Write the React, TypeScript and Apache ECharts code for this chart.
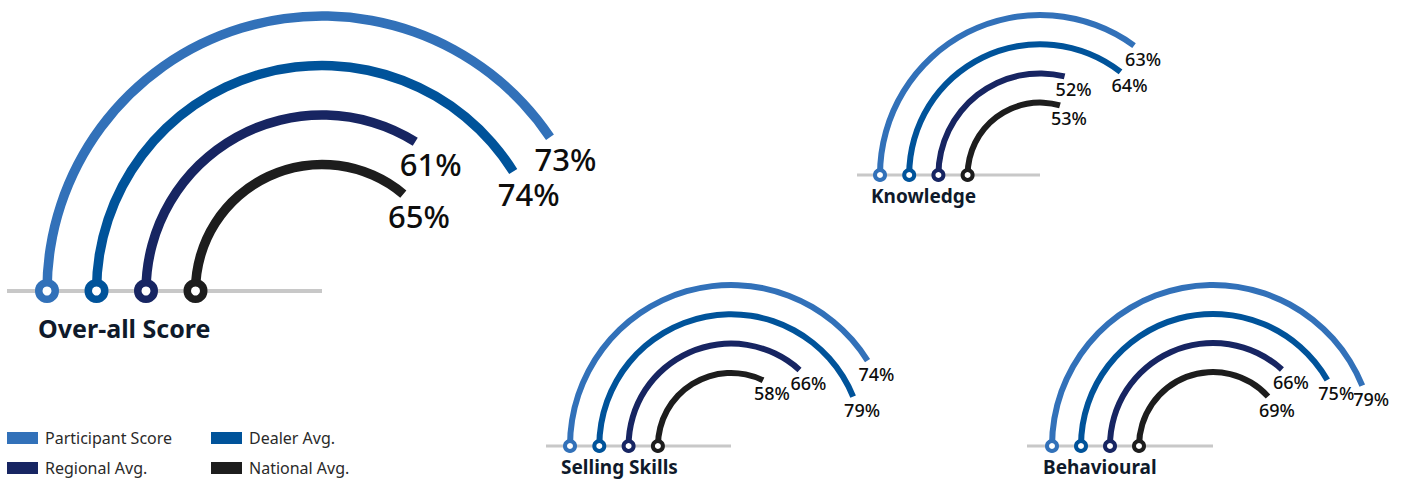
import React, { useEffect, useRef } from 'react';
import * as echarts from 'echarts';

// ---- data ----
const categories = ['Participant Score', 'Dealer Avg.', 'Regional Avg.', 'National Avg.'];
const groupTitles = ['Over-all Score', 'Knowledge', 'Selling Skills', 'Behavioural'];
const overallScores = [73, 74, 61, 65];
const knowledgeScores = [63, 64, 52, 53];
const sellingScores = [74, 79, 66, 58];
const behaviouralScores = [79, 75, 66, 69];
const groupScores = [overallScores, knowledgeScores, sellingScores, behaviouralScores];
const legendColumnA = ['Participant Score', 'Regional Avg.'];
const legendColumnB = ['Dealer Avg.', 'National Avg.'];

// ---- styles / layout ----
const colors = ['#3271b9', '#00539a', '#172562', '#1d1d1d'];
const ANGLE_MAX = 180; // 100% spans 200 degrees
const FONT = '"Noto Sans", "DejaVu Sans", sans-serif';

const layouts = [
  { cx: 322, cy: 291, r: 275, step: 49.5, lw: 9.5, sym: 16.5, bw: 7.5, label: 31, title: 25, base: 4, ext: 40 },
  { cx: 1040, cy: 175, r: 160, step: 29.2, lw: 6, sym: 10, bw: 4, label: 18, title: 19, base: 3, ext: 23 },
  { cx: 731, cy: 446, r: 161, step: 29.3, lw: 6, sym: 10, bw: 4, label: 18, title: 19, base: 3, ext: 24 },
  { cx: 1213, cy: 446, r: 161, step: 29, lw: 6, sym: 10, bw: 4, label: 18, title: 19, base: 3, ext: 25 },
];

export default function App() {
  const ref = useRef<HTMLDivElement>(null);
  useEffect(() => {
    if (!ref.current) return;
    const chart = echarts.init(ref.current, undefined, { renderer: 'svg' });
    const radiusCats = [...categories].reverse();

    const polar: any[] = [];
    const angleAxis: any[] = [];
    const radiusAxis: any[] = [];
    const series: any[] = [];
    const graphic: any[] = [];

    layouts.forEach((L, g) => {
      const scores = groupScores[g];
      const rInner = L.r - L.step * 3;
      polar.push({ center: [L.cx, L.cy], radius: [rInner - L.step / 2, L.r + L.step / 2] });
      angleAxis.push({
        polarIndex: g, type: 'value', min: 0, max: ANGLE_MAX, startAngle: 180, clockwise: true,
        show: false, splitLine: { show: false }, axisLine: { show: false }, axisTick: { show: false }, axisLabel: { show: false },
      });
      radiusAxis.push({
        polarIndex: g, type: 'category', data: radiusCats,
        show: false, splitLine: { show: false }, axisLine: { show: false }, axisTick: { show: false }, axisLabel: { show: false },
      });
      categories.forEach((c, i) => {
        series.push({
          type: 'bar', name: c, coordinateSystem: 'polar', polarIndex: g,
          data: radiusCats.map((rc) => (rc === c ? scores[i] : '-')),
          barWidth: L.lw, barGap: '-100%', itemStyle: { color: colors[i], opacity: 1 }, silent: true, z: 2,
        });
      });
      series.push({
        type: 'scatter', name: 'markers' + g, coordinateSystem: 'polar', polarIndex: g,
        symbol: 'circle', symbolSize: L.sym, silent: true, z: 4,
        itemStyle: { color: '#ffffff', borderWidth: L.bw, opacity: 1 },
        data: categories.map((c, i) => ({
          value: [radiusCats.indexOf(c), 0],
          itemStyle: { borderColor: colors[i], color: '#ffffff', borderWidth: L.bw, opacity: 1 },
        })),
      });
      series.push({
        type: 'scatter', name: 'labels' + g, coordinateSystem: 'polar', polarIndex: g,
        symbol: 'circle', symbolSize: 1, silent: true, z: 5,
        itemStyle: { color: '#ffffff', opacity: 0 },
        label: {
          show: true, position: 'inside', align: 'left', verticalAlign: 'middle',
          offset: [-0.056 * L.r, 0.081 * L.r], opacity: 1,
          formatter: (p: any) => p.value[1] + '%',
          fontSize: L.label, fontFamily: FONT, fontWeight: 500, color: '#0d0d0d',
          textBorderWidth: 0,
        },
        data: categories.map((c, i) => [radiusCats.indexOf(c), scores[i]]),
      });
      graphic.push({
        type: 'line', z: 0, silent: true,
        shape: { x1: L.cx - L.r - L.ext, y1: L.cy, x2: L.cx, y2: L.cy },
        style: { stroke: '#c8c8c8', lineWidth: L.base },
      });
      graphic.push({
        type: 'text', z: 1, silent: true,
        x: L.cx - L.r - 9, y: L.cy + 0.133 * L.r,
        style: {
          text: groupTitles[g], fill: '#0f1a2b', font: `bold ${L.title}px ${FONT}`,
          verticalAlign: 'middle', textVerticalAlign: 'middle', align: 'left',
        },
      });
    });

    const legendBase = {
      orient: 'vertical', top: 430, padding: 0, itemWidth: 31, itemHeight: 12, itemGap: 14,
      icon: 'rect', selectedMode: false,
      textStyle: { fontSize: 16, fontFamily: FONT, color: '#2a2a2a', padding: [0, 0, 0, 2] },
    };

    chart.setOption({
      animation: false,
      polar, angleAxis, radiusAxis, series, graphic,
      legend: [
        { ...legendBase, left: 7, data: legendColumnA },
        { ...legendBase, left: 211, data: legendColumnB },
      ],
    });
    return () => chart.dispose();
  }, []);
  return <div ref={ref} style={{ position: 'absolute', left: 0, top: 0, width: 1408, height: 479 }} />;
}
